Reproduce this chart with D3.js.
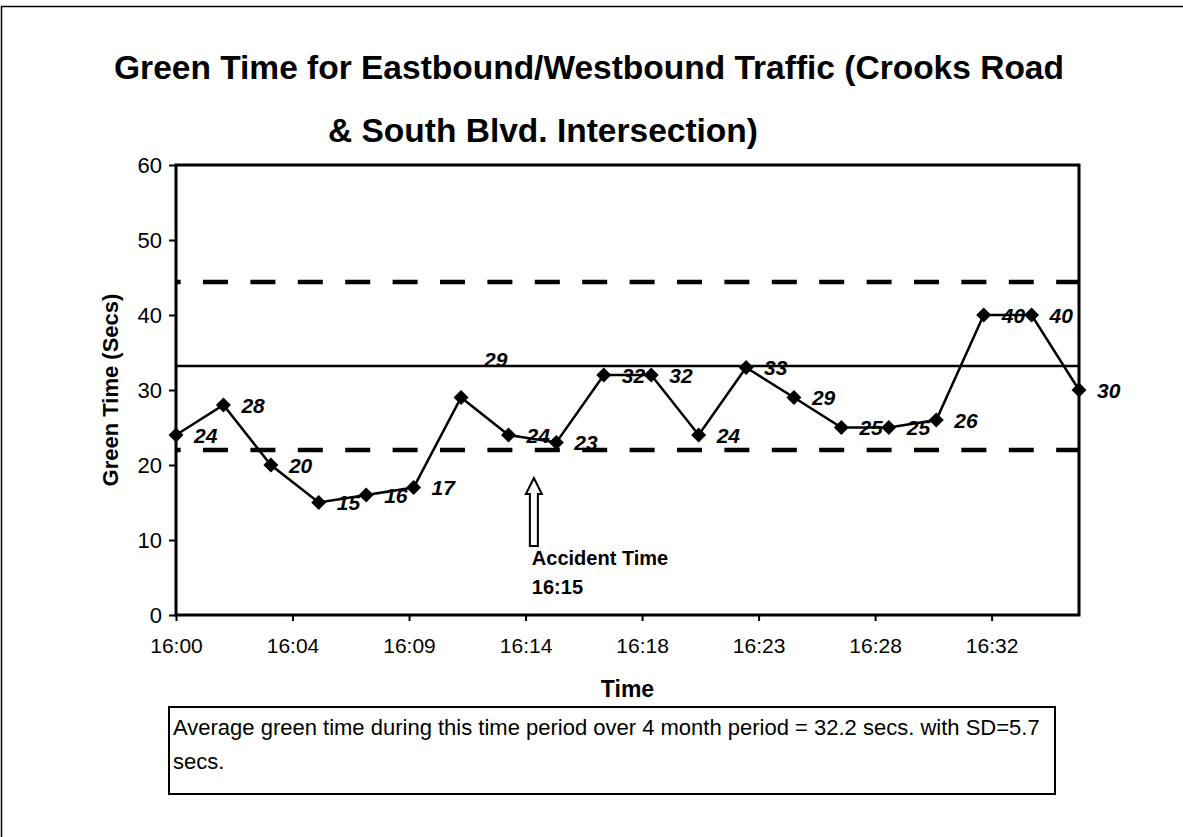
<!DOCTYPE html>
<html>
<head>
<meta charset="utf-8">
<script src="https://cdn.jsdelivr.net/npm/d3@7/dist/d3.min.js"></script>
<style>
  html, body { margin: 0; padding: 0; background: #fff; }
  svg { display: block; font-family: "Liberation Sans", Arial, sans-serif; }
</style>
</head>
<body>
<svg id="chart" width="1183" height="837"></svg>
<script>
// Signal cycle observations (clock time) and green time in seconds
const sampleTimes = ["16:00:00", "16:01:54", "16:03:48", "16:05:43", "16:07:37",
                     "16:09:31", "16:11:25", "16:13:19", "16:15:14", "16:17:08",
                     "16:19:02", "16:20:56", "16:22:50", "16:24:45", "16:26:39",
                     "16:28:33", "16:30:27", "16:32:21", "16:34:16", "16:36:10"];
const greenSecs = [24, 28, 20, 15, 16, 17, 29, 24, 23, 32,
                   32, 24, 33, 29, 25, 25, 26, 40, 40, 30];

// Axis settings
const timeDomain = ["16:00:00", "16:36:10"];
const timeTicks = ["16:00:00", "16:04:40", "16:09:20", "16:14:00",
                   "16:18:40", "16:23:20", "16:28:00", "16:32:40"];
const secTicks = [0, 10, 20, 30, 40, 50, 60];

// Reference levels: upper band, long-term average, lower band
const refValues = [44.4, 33.2, 22.0];
const refDashed = [true, false, true];

// Accident annotation
const accidentTime = "16:14:20";
const accidentText = ["Accident Time", "16:15"];

const titleLines = ["Green Time for Eastbound/Westbound Traffic (Crooks Road",
                    "& South Blvd. Intersection)"];
const noteLines = ["Average green time during this time period over 4 month period = 32.2 secs. with SD=5.7",
                   "secs."];

const parseT = d3.timeParse("%H:%M:%S");
const svg = d3.select("#chart");
const FONT = "Liberation Sans, Arial, sans-serif";

const plot = { left: 176, top: 165, right: 1079, bottom: 615 };

const x = d3.scaleTime()
  .domain(timeDomain.map(parseT))
  .range([plot.left, plot.right]);
const y = d3.scaleLinear()
  .domain([0, 60])
  .range([plot.bottom, plot.top]);

const data = sampleTimes.map((t, i) => ({ t: parseT(t), v: greenSecs[i] }));

// outer frame (left and top edges)
svg.append("path")
  .attr("d", "M1.5,837 L1.5,6.5 L1183,6.5")
  .attr("fill", "none").attr("stroke", "#000").attr("stroke-width", 1.5);

// title
svg.append("g").selectAll("text")
  .data(titleLines).join("text")
  .attr("x", (d, i) => i === 0 ? 589 : 543)
  .attr("y", (d, i) => 79 + i * 63)
  .attr("text-anchor", "middle")
  .attr("font-size", 33.5).attr("font-weight", "bold")
  .text(d => d);

// reference lines
refValues.forEach((v, i) => {
  const ln = svg.append("line")
    .attr("x1", plot.left).attr("x2", plot.right)
    .attr("y1", y(v)).attr("y2", y(v))
    .attr("stroke", "#000");
  if (refDashed[i]) {
    ln.attr("stroke-width", 4.5)
      .attr("stroke-dasharray", "25 22.4")
      .attr("stroke-dashoffset", 20.4);
  } else {
    ln.attr("stroke-width", 2.5);
  }
});

// y axis
const yAxis = svg.append("g")
  .attr("transform", `translate(${plot.left},0)`)
  .call(d3.axisLeft(y).tickValues(secTicks).tickSize(7).tickPadding(7));
yAxis.select(".domain").remove();
yAxis.selectAll(".tick line").attr("stroke-width", 2);
yAxis.selectAll(".tick text")
  .attr("font-size", 22).attr("font-family", FONT).attr("fill", "#000");

// x axis
const xAxis = svg.append("g")
  .attr("transform", `translate(0,${plot.bottom})`)
  .call(d3.axisBottom(x).tickValues(timeTicks.map(parseT))
    .tickFormat(d3.timeFormat("%H:%M")).tickSize(6).tickPadding(17));
xAxis.select(".domain").remove();
xAxis.selectAll(".tick line").attr("stroke-width", 2);
xAxis.selectAll(".tick text")
  .attr("font-size", 21).attr("font-family", FONT).attr("fill", "#000");

// plot border
svg.append("rect")
  .attr("x", plot.left).attr("y", plot.top)
  .attr("width", plot.right - plot.left).attr("height", plot.bottom - plot.top)
  .attr("fill", "none").attr("stroke", "#000").attr("stroke-width", 3);

// axis titles
svg.append("text")
  .attr("x", (plot.left + plot.right) / 2).attr("y", 697)
  .attr("text-anchor", "middle")
  .attr("font-size", 23).attr("font-weight", "bold")
  .text("Time");
svg.append("text")
  .attr("transform", `translate(118,${(plot.top + plot.bottom) / 2}) rotate(-90)`)
  .attr("text-anchor", "middle")
  .attr("font-size", 22).attr("font-weight", "bold")
  .text("Green Time (Secs)");

// series line
svg.append("path")
  .datum(data)
  .attr("d", d3.line().x(d => x(d.t)).y(d => y(d.v)))
  .attr("fill", "none").attr("stroke", "#000").attr("stroke-width", 2.5);

// diamond markers
const dm = 7.5;
svg.append("g").selectAll("path")
  .data(data).join("path")
  .attr("transform", d => `translate(${x(d.t)},${y(d.v)})`)
  .attr("d", `M0,${-dm} L${dm},0 L0,${dm} L${-dm},0 Z`)
  .attr("fill", "#000");

// data labels (one label sits above its point)
const labelNudge = { 6: [23, -38] };
svg.append("g").selectAll("text")
  .data(data).join("text")
  .attr("x", (d, i) => x(d.t) + (labelNudge[i] ? labelNudge[i][0] : 18))
  .attr("y", (d, i) => y(d.v) + (labelNudge[i] ? labelNudge[i][1] : 0) + 7.5)
  .attr("font-size", 21).attr("font-weight", "bold").attr("font-style", "italic")
  .text(d => d.v);

// accident arrow
const ax = x(parseT(accidentTime));
const tipY = 478, headY = 494, baseY = 546, hw = 8, sw = 4;
svg.append("path")
  .attr("d", `M${ax},${tipY} L${ax + hw},${headY} L${ax + sw},${headY} L${ax + sw},${baseY}
              L${ax - sw},${baseY} L${ax - sw},${headY} L${ax - hw},${headY} Z`)
  .attr("fill", "#fff").attr("stroke", "#000").attr("stroke-width", 2);
svg.append("g").selectAll("text")
  .data(accidentText).join("text")
  .attr("x", ax - 2).attr("y", (d, i) => 565 + i * 29)
  .attr("font-size", 20).attr("font-weight", "bold")
  .text(d => d);

// note box
svg.append("rect")
  .attr("x", 169).attr("y", 707).attr("width", 886).attr("height", 87)
  .attr("fill", "none").attr("stroke", "#000").attr("stroke-width", 2);
svg.append("g").selectAll("text")
  .data(noteLines).join("text")
  .attr("x", 173).attr("y", (d, i) => 735 + i * 34)
  .attr("font-size", 22)
  .text(d => d);
</script>
</body>
</html>
